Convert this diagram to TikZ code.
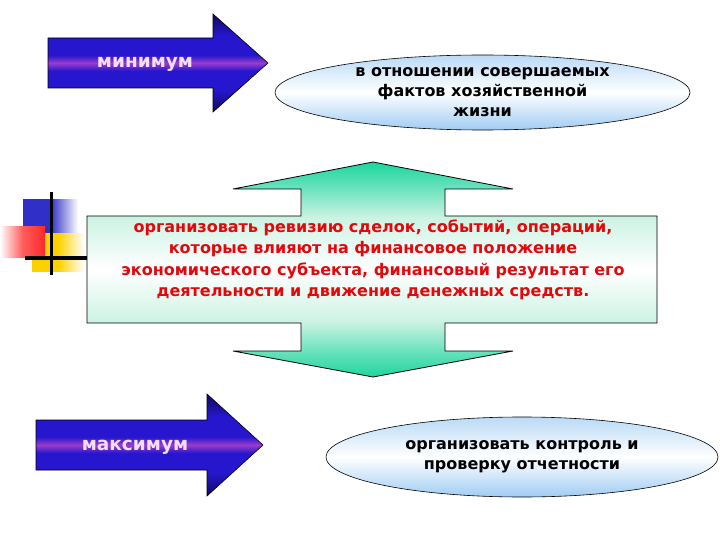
\documentclass[tikz,border=0pt]{standalone}
\usepackage{fontspec}
\setmainfont{DejaVu Sans}
\usetikzlibrary{shapes.geometric}

\definecolor{arrdark}{RGB}{16,10,95}
\definecolor{arrblue}{RGB}{38,22,205}
\definecolor{arrpurple}{RGB}{155,60,205}
\definecolor{arrtext}{RGB}{242,222,255}
\definecolor{grn}{RGB}{28,214,158}
\definecolor{grnmid}{RGB}{105,226,188}
\definecolor{grnpale}{RGB}{205,243,228}
\definecolor{ovaltop}{RGB}{185,218,246}
\definecolor{ovalbot}{RGB}{160,204,244}
\definecolor{redtext}{RGB}{226,8,12}
\definecolor{decoblue}{RGB}{48,48,200}
\definecolor{decoyellow}{RGB}{255,208,0}
\definecolor{decored}{RGB}{255,40,40}

\pgfdeclareverticalshading{bluearrow}{100bp}{color(0bp)=(arrdark); color(25bp)=(arrdark);
  color(36bp)=(arrblue); color(46bp)=(arrblue); color(50bp)=(arrpurple);
  color(54bp)=(arrblue); color(64bp)=(arrblue); color(75bp)=(arrdark); color(100bp)=(arrdark)}
\pgfdeclareverticalshading{greenarrow}{100bp}{color(0bp)=(grn); color(25bp)=(grn);
  color(31bp)=(grnmid); color(38bp)=(grnpale); color(50bp)=(white);
  color(62bp)=(grnpale); color(69bp)=(grnmid); color(75bp)=(grn); color(100bp)=(grn)}
\pgfdeclareverticalshading{ovalshade}{100bp}{color(0bp)=(ovalbot); color(25bp)=(ovalbot);
  color(50bp)=(white); color(75bp)=(ovaltop); color(100bp)=(ovaltop)}

\begin{document}
\begin{tikzpicture}[
        x=1pt, y=-1pt,
        blueshape/.style={draw=black, line width=0.6pt, shading=bluearrow},
        greenshape/.style={draw=black, line width=0.8pt, shading=greenarrow},
        oval/.style={ellipse, draw=black, line width=0.6pt, shading=ovalshade},
        arrowtext/.style={font=\bfseries\fontsize{18.5}{22}\selectfont, text=arrtext},
        ovaltext/.style={align=center, font=\bfseries\fontsize{16}{20}\selectfont},
        redlines/.style={align=center, text=redtext, font=\bfseries\fontsize{16}{21.5}\selectfont}
    ]
    \useasboundingbox (0,0) rectangle (720,540);

    % little squares on the left
    \shade[left color=decoblue, right color=white, middle color=decoblue] (23,200) rectangle (78,233);
    \shade[left color=decoyellow, right color=white, middle color=decoyellow] (32,233) rectangle (84,271);
    \shade[left color=white, right color=decored, middle color=decored!75!white] (0,227) rectangle (45,257);
    \draw[line width=3pt] (51,192) -- (51,275);
    \draw[line width=4pt] (25,258) -- (87,258);

    % up-down arrow with the box
    \draw[greenshape] (373,162) -- (513,189) -- (445,189) -- (445,216) -- (657,216)
        -- (657,323) -- (445,323) -- (445,351) -- (513,351) -- (373,377)
        -- (233,351) -- (301,351) -- (301,323) -- (87,323) -- (87,216)
        -- (301,216) -- (301,189) -- (233,189) -- cycle;
    \node[redlines] (revision) at (373,260) {организовать ревизию сделок, событий, операций,\\
        которые влияют на финансовое положение\\
        экономического субъекта, финансовый результат его\\
        деятельности и движение денежных средств.};

    % minimum
    \draw[blueshape] (48,38) -- (213,38) -- (213,14) -- (268,63) -- (213,112)
        -- (213,88) -- (48,88) -- cycle;
    \node[arrowtext] (minlabel) at (145,64) {минимум};
    \node[oval, minimum width=415pt, minimum height=75pt] (factoval) at (482.5,92.5) {};
    \node[ovaltext] (facttext) at (factoval.center) {в отношении совершаемых\\
        фактов хозяйственной\\жизни};

    % maximum
    \draw[blueshape] (36,420) -- (207,420) -- (207,394) -- (263,445) -- (207,496)
        -- (207,470) -- (36,470) -- cycle;
    \node[arrowtext] (maxlabel) at (135,447) {максимум};
    \node[oval, minimum width=392pt, minimum height=80pt] (ctrloval) at (522,457) {};
    \node[ovaltext] (ctrltext) at (ctrloval.center) {организовать контроль и\\
        проверку отчетности};
\end{tikzpicture}
\end{document}
